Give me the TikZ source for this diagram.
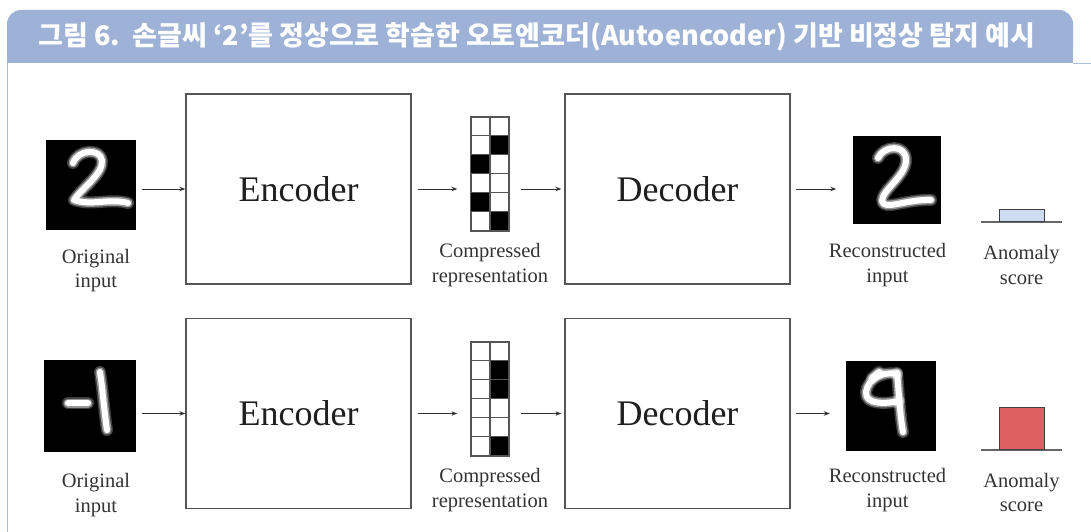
\documentclass[tikz,border=0pt]{standalone}
\usepackage{fontspec}
\setmainfont{Liberation Serif}
\newfontfamily\titlefont{Noto Sans CJK KR}
\usetikzlibrary{arrows.meta,positioning}

\definecolor{barblue}{RGB}{158,178,216}
\definecolor{framecol}{RGB}{170,190,226}
\definecolor{boxgray}{RGB}{85,85,85}
\definecolor{lowscore}{RGB}{205,220,242}
\definecolor{highscore}{RGB}{222,96,96}

\tikzset{
  block/.style={draw=boxgray, line width=1.3pt, minimum width=225pt, minimum height=190pt,
    inner sep=0pt, font=\fontsize{36}{40}\selectfont, text=black!88},
  digit/.style={fill=black, minimum size=90pt, inner sep=0pt},
  caption/.style={align=center, font=\fontsize{20.5}{24.5}\selectfont, text=black!80},
  flow/.style={draw=black!80, line width=1pt, -{Stealth[length=6pt,width=4.5pt]}},
  halo/.style={draw=white, line width=12pt, line cap=round, line join=round, opacity=.25},
  glow/.style={draw=white, line width=9pt, line cap=round, line join=round, opacity=.45},
  ink/.style={draw=white, line width=6pt, line cap=round, line join=round},
  latent/.style={draw=boxgray, line width=1.3pt, minimum width=38pt, minimum height=114pt, inner sep=0pt},
  cellline/.style={draw=boxgray, line width=1.1pt},
  score/.style={draw=black!75, line width=1pt, minimum width=45pt, inner sep=0pt, anchor=south},
  axisline/.style={draw=black!60, line width=1.2pt},
}

% a handwritten stroke: soft halo first, then the white core
\newcommand\penstroke[1]{\draw[halo] #1; \draw[glow] #1; \draw[ink] #1;}

\begin{document}
\begin{tikzpicture}[x=1pt,y=-1pt]
\useasboundingbox (0,0) rectangle (1091,532);

% heading
\fill[barblue, rounded corners=14pt] (7,10) rectangle (1073,63);
\fill[barblue] (7,35) rectangle (1073,63);
\node[anchor=west, text=white, font=\titlefont\bfseries\fontsize{27}{32}\selectfont] (title) at (35,37)
  {그림 6.\ \ 손글씨 ‘2’를 정상으로 학습한 오토엔코더(Autoencoder) 기반 비정상 탐지 예시};
\draw[framecol, line width=1pt] (1073,63.5) -- (1091,63.5);
\draw[framecol, line width=1pt] (7,63) -- (7,532);

% ---- normal digit ----
\node[digit] (in1) at (91,185) {};
\penstroke{(73,163) .. controls (78,149) and (101,148) .. (102,161) .. controls (103,174) and (82,188) .. (74,200) .. controls (92,206) and (110,198) .. (128,203)}
\node[caption] (in1cap) at (96,270.5) {Original\\input};

\node[block] (enc1) at (298.5,189) {Encoder};

\node[latent] (code1) at (490,174) {};
\foreach \c/\r in {1/1,0/2,0/4,1/5}
  \fill (code1.north west) ++(\c*19,\r*19) rectangle ++(19,19);
\foreach \r in {1,...,5}
  \draw[cellline] (code1.north west) ++(0,\r*19) -- ++(38,0);
\draw[cellline] (code1.north) -- (code1.south);
\draw[cellline] (code1.north west) rectangle (code1.south east);
\node[caption] (code1cap) at (490,265) {Compressed\\representation};

\node[block] (dec1) at (677.5,189) {Decoder};

\node[digit, minimum size=88pt] (rec1) at (896.5,180) {};
\penstroke{(878,158) .. controls (884,145) and (906,144) .. (906,160) .. controls (906,176) and (882,190) .. (882,201) .. controls (884,211) and (906,199) .. (931,200)}
\node[caption] (rec1cap) at (887.5,265) {Reconstructed\\input};

\coordinate (s1) at (1021.5,222);
\draw[axisline] (s1) ++(-40.5,0) -- ++(81,0);
\node[score, fill=lowscore, minimum height=12pt] (bar1) at (s1) {};
\node[caption] (bar1cap) at (1021.5,265) {Anomaly\\score};

\draw[flow, shorten <=6pt] (in1.east |- enc1) -- (enc1.west);
\draw[flow, shorten <=6pt, shorten >=13pt] (enc1.east) -- (code1.west |- enc1);
\draw[flow, shorten <=11pt, shorten >=3pt] (code1.east |- dec1) -- (dec1.west);
\draw[flow, shorten <=5pt, shorten >=16pt] (dec1.east) -- (rec1.west |- dec1);

% ---- abnormal digit ----
\node[digit, minimum size=92pt] (in2) at (89.5,405.5) {};
\penstroke{(68,403) -- (88,403)}
\penstroke{(100,372) .. controls (103,392) and (104,410) .. (107,430)}
\node[caption] (in2cap) at (96,495) {Original\\input};

\node[block] (enc2) at (298.5,413.5) {Encoder};

\node[latent] (code2) at (490,399) {};
\foreach \c/\r in {1/1,1/2,1/5}
  \fill (code2.north west) ++(\c*19,\r*19) rectangle ++(19,19);
\foreach \r in {1,...,5}
  \draw[cellline] (code2.north west) ++(0,\r*19) -- ++(38,0);
\draw[cellline] (code2.north) -- (code2.south);
\draw[cellline] (code2.north west) rectangle (code2.south east);
\node[caption] (code2cap) at (490,490) {Compressed\\representation};

\node[block] (dec2) at (677.5,413.5) {Decoder};

\node[digit] (rec2) at (891,406) {};
\penstroke{(897,373) .. controls (899,395) and (900,415) .. (903,432)}
\penstroke{(897,374) .. controls (884,371) and (868,378) .. (866,392) .. controls (865,405) and (886,404) .. (899,401)}
\penstroke{(872,378) -- (879,372)}
\node[caption] (rec2cap) at (887.5,490) {Reconstructed\\input};

\coordinate (s2) at (1021.5,450);
\draw[axisline] (s2) ++(-40.5,0) -- ++(81,0);
\node[score, fill=highscore, minimum height=42pt] (bar2) at (s2) {};
\node[caption] (bar2cap) at (1021.5,492.5) {Anomaly\\score};

\draw[flow, shorten <=6pt] (in2.east |- enc2) -- (enc2.west);
\draw[flow, shorten <=6pt, shorten >=13pt] (enc2.east) -- (code2.west |- enc2);
\draw[flow, shorten <=11pt, shorten >=3pt] (code2.east |- dec2) -- (dec2.west);
\draw[flow, shorten <=5pt, shorten >=16pt] (dec2.east) -- (rec2.west |- dec2);
\end{tikzpicture}
\end{document}
